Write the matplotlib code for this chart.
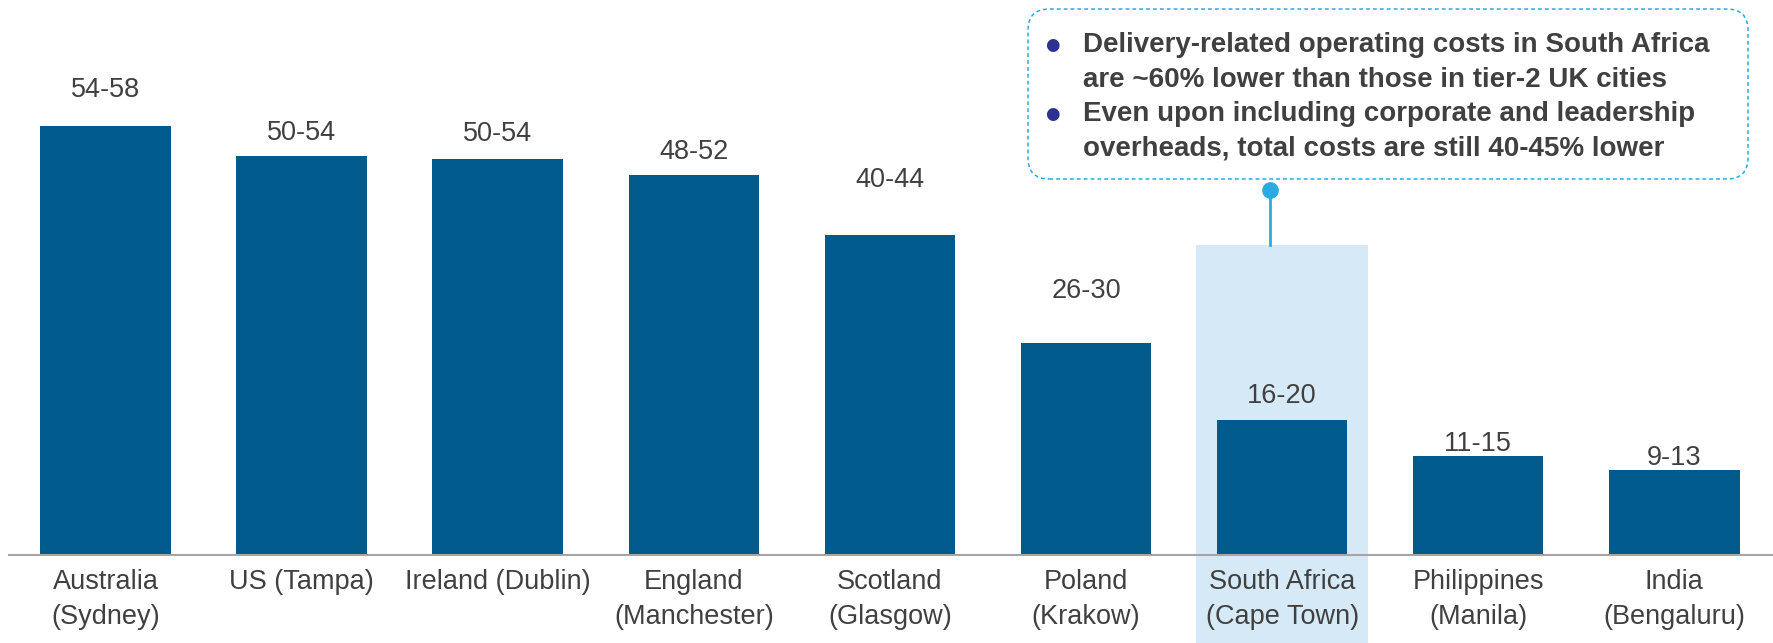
import matplotlib
matplotlib.use("Agg")
from matplotlib import pyplot as plt
from matplotlib.patches import FancyBboxPatch
from matplotlib.lines import Line2D

cities = ["Australia\n(Sydney)", "US (Tampa)", "Ireland (Dublin)", "England\n(Manchester)",
          "Scotland\n(Glasgow)", "Poland\n(Krakow)", "South Africa\n(Cape Town)",
          "Philippines\n(Manila)", "India\n(Bengaluru)"]
values = [56.2, 52.2, 51.8, 49.7, 41.9, 27.8, 17.7, 13.0, 11.1]
ranges = ["54-58", "50-54", "50-54", "48-52", "40-44", "26-30", "16-20", "11-15", "9-13"]
label_gap = [36, 23, 25, 23, 55, 52, 24, 12, 12]  # px above bar top (manual in original)

callout = ["Delivery-related operating costs in South Africa",
           "are ~60% lower than those in tier-2 UK cities",
           "Even upon including corporate and leadership",
           "overheads, total costs are still 40-45% lower"]
bullet_lines = [0, 2]
highlight = 6

W, H = 1773, 643
bar_color = "#005A8C"
text_color = "#404040"
light = "#D5EAF6"
accent = "#29ABE2"

fig = plt.figure(figsize=(W / 100, H / 100), dpi=100)
ax = fig.add_axes([0, 0, 1, 1])
pitch = 196.1
px_per_unit = 7.64
ax.set_xlim(-105.5 / pitch, (W - 105.5) / pitch)
ax.set_ylim(-88 / px_per_unit, (H - 88) / px_per_unit)

# highlight band behind South Africa
y0 = ax.get_ylim()[0]
ax.bar(highlight, 40.6 - y0, bottom=y0, width=0.88, color=light, zorder=0)

ax.bar(range(len(values)), values, width=0.665, color=bar_color, zorder=2)
ax.add_line(Line2D([-0.49, 9], [0, 0], color="#A6A6A6", lw=1.5, zorder=3))

for i, (v, r) in enumerate(zip(values, ranges)):
    ax.annotate(r, (i, v), xytext=(0, label_gap[i]), textcoords="offset pixels",
                ha="center", va="center", fontsize=19.5, color=text_color,
                family="Liberation Sans")

for i, c in enumerate(cities):
    ax.text(i, -1.85, c, ha="center", va="top", fontsize=19.5, color=text_color,
            family="Liberation Sans", linespacing=1.45)

ax.axis("off")

# callout box
box = FancyBboxPatch((1028 / W, 1 - 179 / H), 720 / W, 170 / H,
                     boxstyle="round,pad=0,rounding_size=0.012",
                     transform=fig.transFigure, fill=False, ec=accent, lw=1.1,
                     ls=(0, (2.5, 2)), mutation_aspect=W / H)
fig.add_artist(box)
fig.add_artist(Line2D([1270 / W, 1270 / W], [1 - 190 / H, 1 - 245 / H],
                      transform=fig.transFigure, color=accent, lw=2))
fig.add_artist(Line2D([1270 / W], [1 - 190 / H], transform=fig.transFigure,
                      marker="o", markersize=11, color=accent, lw=0))

line_y = [45, 80, 114, 148]
for k, (t, y) in enumerate(zip(callout, line_y)):
    fig.text(1083 / W, 1 - y / H, t, ha="left", va="center", fontsize=20,
             fontweight="bold", color=text_color, family="Liberation Sans")
    if k in bullet_lines:
        fig.text(1052 / W, 1 - y / H, "\u25cf", ha="center", va="center",
                 fontsize=12, color="#2E3192", family="DejaVu Sans")

fig.savefig("out.png", dpi=100)
